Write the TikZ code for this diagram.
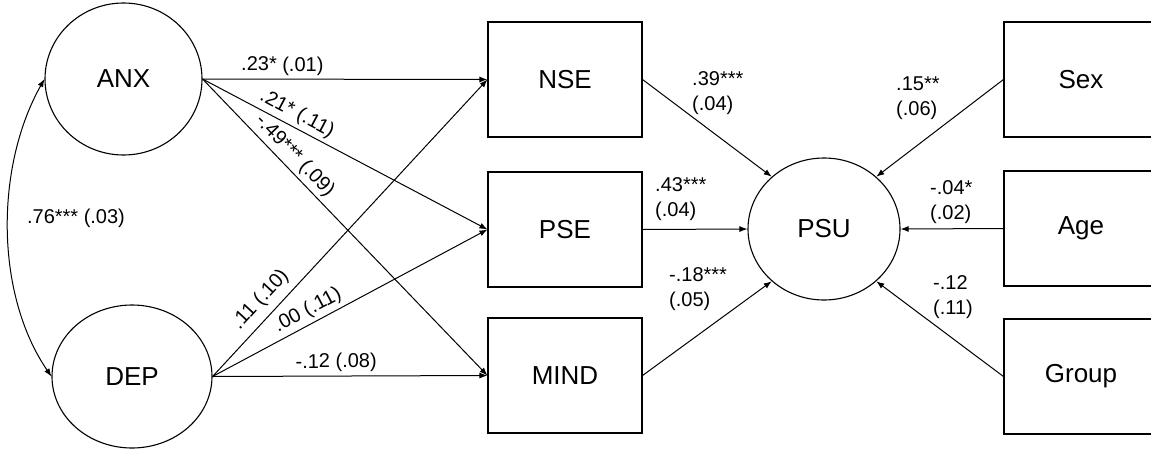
\documentclass[tikz,border=0pt]{standalone}
\usepackage{fontspec}
\setmainfont{Liberation Sans}
\usetikzlibrary{shapes.geometric,arrows.meta}
\begin{document}
\begin{tikzpicture}[x=1pt,y=-1pt,
  every node/.style={font=\fontsize{20}{25}\selectfont},
  latent/.style={ellipse,draw,line width=1.1pt,inner sep=0pt,font=\fontsize{26}{30}\selectfont},
  observed/.style={rectangle,draw,line width=1.1pt,minimum width=154pt,minimum height=115pt,inner sep=0pt,font=\fontsize{26}{30}\selectfont},
  effect/.style={draw,line width=1pt,-{Latex[length=8pt,width=6pt]}},
  covar/.style={draw,line width=1pt,{Latex[length=8pt,width=6pt]}-{Latex[length=8pt,width=6pt]}},
  slab/.style={sloped,above,inner sep=3.5pt},
  coef/.style={inner sep=0pt,align=left,anchor=north west}
]
\useasboundingbox (0,0) rectangle (1151,450);
\clip (0,0) rectangle (1151,450);
\fill[white] (0,0) rectangle (1151,450);

% predictors
\node[latent,minimum width=157pt,minimum height=152pt] (anx) at (123.5,79) {ANX};
\node[latent,minimum width=160pt,minimum height=143pt] (dep) at (132,376.5) {DEP};

% mediators
\node[observed] (nse)  at (565,79.5)  {NSE};
\node[observed] (pse)  at (565,229.5) {PSE};
\node[observed] (mind) at (565,375.5) {MIND};

% outcome
\node[latent,minimum width=152pt,minimum height=142pt] (psu) at (824,229) {PSU};

% covariates
\node[observed] (sex)   at (1081,79.5)  {Sex};
\node[observed] (age)   at (1081,228.5) {Age};
\node[observed] (group) at (1081,376.5) {Group};

% covariance between predictors
\draw[covar] (anx.west) .. controls (-5,167) and (-5,294) .. (dep.west);
\node (rcov) at (76,218) {.76*** (.03)};

% paths from ANX
\draw[effect] (anx.east) -- node[slab,pos=0.28] {.23* (.01)} (nse.west);
\draw[effect] (anx.east) -- node[slab,pos=0.31] {.21* (.11)} (pse.west);
\draw[effect] (anx.east) -- node[slab,pos=0.29] {-.49*** (.09)} (mind.west);

% paths from DEP
\draw[effect] (dep.east) -- node[slab,pos=0.22,inner sep=7pt] {.11 (.10)} (nse.west);
\draw[effect] (dep.east) -- node[slab,pos=0.37] {.00 (.11)} (pse.west);
\draw[effect] (dep.east) -- node[slab,pos=0.45] {-.12 (.08)} (mind.west);

% paths into PSU
\draw[effect] (nse.east)   -- (psu.135);
\draw[effect] (pse.east)   -- (psu.west);
\draw[effect] (mind.east)  -- (psu.225);
\draw[effect] (sex.west)   -- (psu.45);
\draw[effect] (age.west)   -- (psu.east);
\draw[effect] (group.west) -- (psu.315);

% coefficients into PSU
\node[coef] (bnse)   at (692,71)  {.39***\\(.04)};
\node[coef] (bpse)   at (655,177) {.43***\\(.04)};
\node[coef] (bmind)  at (669,267) {-.18***\\(.05)};
\node[coef] (bsex)   at (896,77)  {.15**\\(.06)};
\node[coef] (bage)   at (930,180) {-.04*\\(.02)};
\node[coef] (bgroup) at (933,275) {-.12\\(.11)};
\end{tikzpicture}
\end{document}
